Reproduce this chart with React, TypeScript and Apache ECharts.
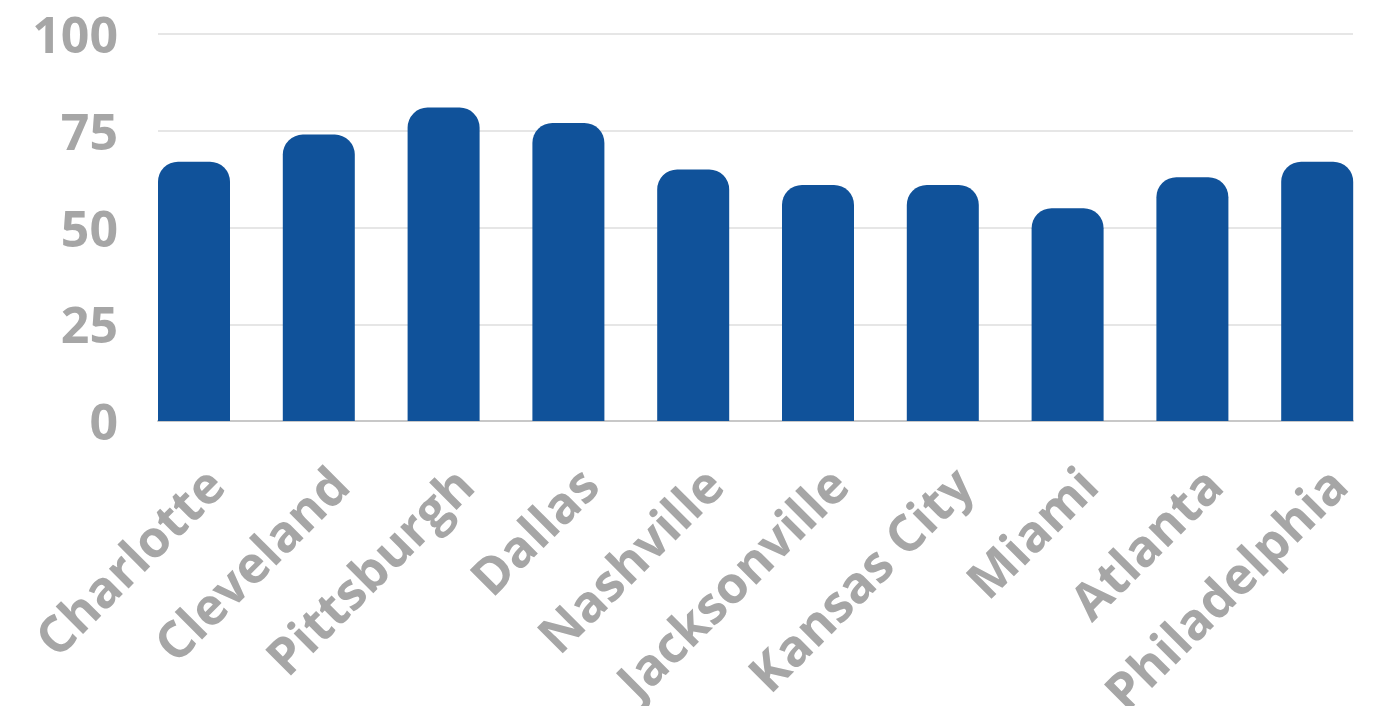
import React, { useEffect, useRef } from "react";
import * as echarts from "echarts";

const categories = ["Charlotte", "Cleveland", "Pittsburgh", "Dallas", "Nashville", "Jacksonville", "Kansas City", "Miami", "Atlanta", "Philadelphia"];
const values = [67, 74, 81, 77, 65, 61, 61, 55, 63, 67];

const FONT = "'Open Sans', sans-serif";
const GRAY = "#a6a6a6";

export default function App() {
  const ref = useRef<HTMLDivElement>(null);
  useEffect(() => {
    document.body.style.margin = "0";
    const chart = echarts.init(ref.current!, null, { renderer: "svg" });
    chart.setOption({
      animation: false,
      backgroundColor: "#ffffff",
      grid: [
        { left: 158, right: 20, top: 34, bottom: 285, outerBoundsMode: "none", containLabel: false },
        { left: 131.6, width: 1248, top: 34, bottom: 285, outerBoundsMode: "none", containLabel: false },
      ],
      xAxis: [
        {
          gridIndex: 0,
          type: "category",
          data: categories,
          axisLine: { show: true, lineStyle: { color: "#c8c8c8", width: 2 } },
          axisTick: { show: false },
          axisLabel: { show: false },
        },
        {
          gridIndex: 1,
          type: "category",
          data: categories,
          axisLine: { show: false },
          axisTick: { show: false },
          axisLabel: {
            rotate: 45,
            interval: 0,
            margin: 34,
            color: GRAY,
            fontFamily: FONT,
            fontWeight: "bold",
            fontSize: 51,
            verticalAlign: "top",
            lineHeight: 56,
          },
        },
      ],
      yAxis: [
        {
          gridIndex: 0,
          type: "value",
          min: 0,
          max: 100,
          interval: 25,
          axisLine: { show: false },
          axisTick: { show: false },
          splitLine: { lineStyle: { color: "#e6e6e6", width: 2 } },
          axisLabel: {
            margin: 40,
            color: GRAY,
            fontFamily: FONT,
            fontWeight: "bold",
            fontSize: 50,
          },
        },
        {
          gridIndex: 1,
          type: "value",
          min: 0,
          max: 100,
          interval: 25,
          show: false,
          splitLine: { show: false },
        },
      ],
      series: [
        {
          type: "bar",
          xAxisIndex: 1,
          yAxisIndex: 1,
          data: values,
          barWidth: 72,
          itemStyle: { color: "#10529a", borderRadius: [20, 20, 0, 0] },
        },
      ],
    });
    return () => chart.dispose();
  }, []);
  return <div ref={ref} style={{ width: 1373, height: 706 }} />;
}
